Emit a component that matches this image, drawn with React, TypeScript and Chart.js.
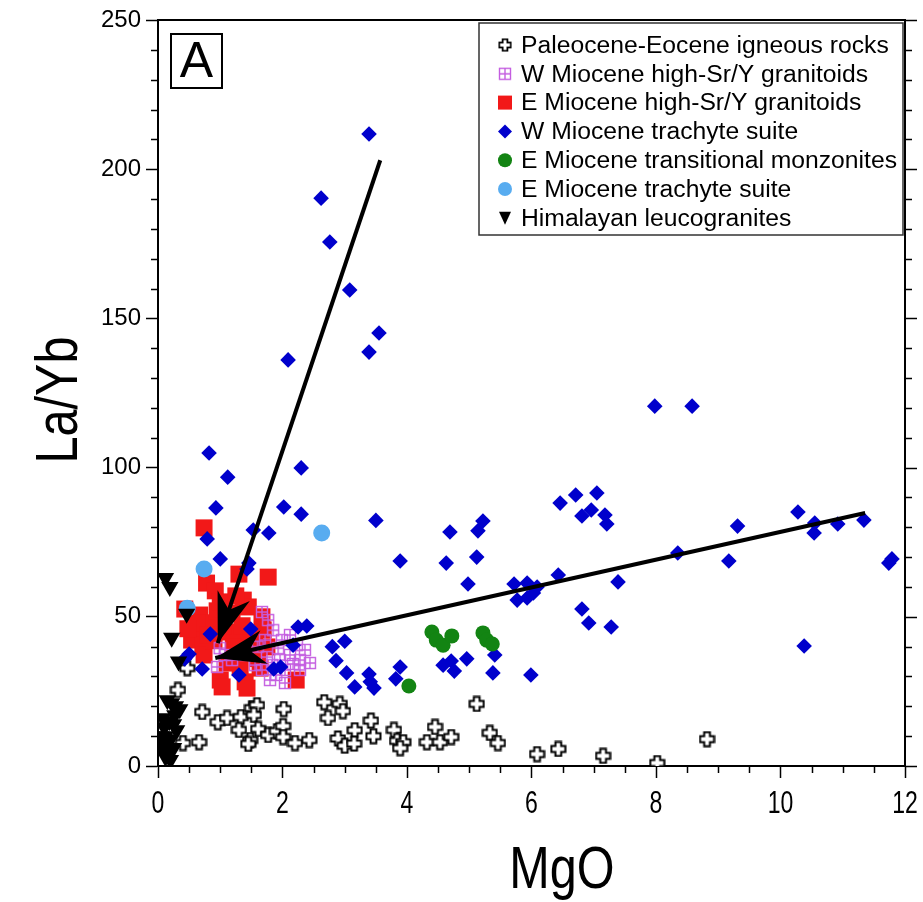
import React, { useEffect, useRef } from 'react';
import { Chart, registerables } from 'chart.js';
Chart.register(...registerables);

// ---------- data ----------
const paleoMgO = [0.32, 0.40, 0.66, 0.71, 0.96, 1.11, 1.33, 1.51, 1.59, 1.54, 1.30, 1.48, 1.45, 1.61, 1.77, 1.91, 2.01, 2.01, 2.02, 2.20, 2.43, 2.67, 2.92, 2.97, 2.73, 2.89, 3.00, 3.16, 3.15, 3.42, 3.46, 3.79, 3.84, 3.94, 3.89, 4.45, 4.32, 4.53, 4.71, 5.12, 5.33, 5.46, 6.09, 6.43, 7.15, 8.02, 8.82, 0.47];
const paleoLaYb = [25.5, 7.7, 8.0, 18.1, 14.7, 16.1, 16.4, 19.4, 20.4, 17.1, 12.1, 8.7, 7.4, 12.4, 10.4, 11.7, 13.4, 9.7, 19.1, 7.7, 8.7, 21.4, 20.8, 18.4, 16.1, 9.2, 6.8, 12.0, 7.5, 15.2, 10.0, 12.1, 8.4, 8.0, 6.0, 13.1, 8.0, 8.0, 9.7, 20.8, 11.1, 7.7, 4.0, 5.7, 3.4, 1.0, 9.0, 32.8];

const wGranMgO = [1.67, 1.77, 1.99, 2.12, 2.23, 2.36, 2.44, 2.28, 2.12, 1.96, 1.83, 1.67, 1.80, 2.04, 1.56, 1.40, 1.19, 1.08, 0.99, 2.04, 2.28, 1.72, 1.93, 2.17, 1.85, 1.60, 1.90, 1.75, 0.95];
const wGranLaYb = [51.6, 48.9, 42.2, 43.9, 40.5, 38.9, 34.5, 35.5, 37.2, 35.5, 33.8, 32.2, 28.8, 27.8, 33.8, 37.2, 35.5, 37.2, 39.5, 32.2, 32.2, 42.2, 39.5, 34.2, 45.5, 40.0, 30.5, 36.5, 33.2];

const eGranMgO = [0.74, 1.77, 1.30, 0.78, 0.92, 1.37, 1.45, 0.43, 1.19, 1.67, 0.67, 0.59, 0.54, 0.72, 1.11, 1.29, 1.21, 1.48, 1.69, 1.75, 1.11, 1.32, 1.64, 1.00, 1.03, 1.40, 1.43, 2.22, 0.74, 0.85, 0.95, 1.05, 0.62, 1.55, 1.60, 0.90, 1.35, 0.80, 1.00, 1.25, 0.48];
const eGranLaYb = [79.8, 63.3, 64.3, 61.3, 58.7, 55.6, 53.3, 52.6, 51.3, 50.0, 50.6, 45.6, 42.2, 40.5, 44.9, 43.2, 39.9, 38.2, 45.6, 39.9, 34.5, 33.2, 32.8, 28.8, 26.5, 28.2, 26.1, 28.8, 37.2, 48.0, 52.0, 47.0, 48.0, 42.0, 36.0, 42.0, 47.0, 44.0, 55.0, 57.0, 46.0];

const wTrachMgO = [3.39, 2.62, 2.76, 3.08, 3.55, 3.39, 2.09, 0.82, 1.12, 2.30, 0.93, 2.02, 2.30, 0.79, 1.53, 1.78, 1.00, 1.46, 1.43, 3.50, 3.89, 7.98, 8.58, 6.46, 6.71, 7.05, 6.81, 6.96, 7.18, 7.21, 4.69, 5.14, 5.22, 4.63, 5.12, 4.98, 5.72, 5.93, 6.09, 5.77, 5.93, 6.03, 6.43, 7.39, 6.81, 6.92, 7.28, 8.35, 9.17, 9.31, 10.28, 10.55, 10.54, 10.92, 11.34, 11.74, 11.79, 10.38, 2.80, 3.00, 2.86, 3.03, 3.39, 3.41, 3.16, 3.47, 3.89, 3.82, 4.58, 4.71, 4.76, 4.96, 5.41, 5.38, 5.99, 0.84, 1.49, 2.25, 2.39, 2.17, 0.50, 0.43, 0.71, 1.30, 1.86, 1.97];
const wTrachLaYb = [211.8, 190.3, 175.6, 159.5, 145.1, 138.7, 136.1, 104.9, 96.8, 99.9, 86.5, 86.8, 84.4, 76.1, 79.1, 78.1, 69.4, 68.0, 66.0, 82.3, 68.7, 120.6, 120.6, 88.1, 90.8, 91.5, 83.8, 85.8, 84.1, 81.1, 78.4, 78.8, 82.1, 68.0, 70.0, 61.0, 61.0, 61.3, 60.0, 55.6, 56.3, 58.0, 64.0, 61.7, 52.6, 47.9, 46.6, 71.4, 68.7, 80.4, 85.1, 81.4, 78.1, 81.1, 82.4, 68.0, 69.4, 40.2, 40.0, 41.8, 35.3, 31.2, 30.8, 28.2, 26.5, 26.1, 33.2, 29.2, 33.8, 35.2, 31.8, 35.9, 37.2, 31.2, 30.5, 44.2, 45.9, 46.6, 46.9, 40.5, 37.5, 35.9, 32.5, 30.5, 32.5, 33.2];

const monzMgO = [4.40, 4.47, 4.58, 4.72, 5.22, 5.28, 5.37, 4.03];
const monzLaYb = [44.9, 42.2, 40.5, 43.6, 44.6, 42.2, 40.9, 26.8];

const eTrachMgO = [2.63, 0.74, 0.47];
const eTrachLaYb = [78.1, 66.0, 52.9];

const leucoMgO = [0.12, 0.19, 0.46, 0.22, 0.33, 0.15, 0.22, 0.28, 0.35, 0.27, 0.18, 0.08, 0.10, 0.05, 0.12, 0.20, 0.08, 0.15, 0.25, 0.10, 0.18, 0.12, 0.20, 0.30, 0.25];
const leucoLaYb = [63, 60, 51, 43, 35, 22, 21, 20, 19, 17, 15, 16, 13, 10, 10, 9, 7, 6, 6, 5, 4, 3, 2, 12, 14];

const arrowAMgO = [3.57, 0.96];
const arrowALaYb = [203, 41.2];
const arrowBMgO = [11.36, 0.92];
const arrowBLaYb = [84.8, 36.2];

const xMajorTicks = [0, 2, 4, 6, 8, 10, 12];
const yMajorTicks = [0, 50, 100, 150, 200, 250];
const xMinorStep = 0.5;
const yMinorStep = 10;

const seriesNames = [
  'Paleocene-Eocene igneous rocks',
  'W Miocene high-Sr/Y granitoids',
  'E Miocene high-Sr/Y granitoids',
  'W Miocene trachyte suite',
  'E Miocene transitional monzonites',
  'E Miocene trachyte suite',
  'Himalayan leucogranites',
];
const panelLabel = 'A';
const xTitle = 'MgO';
const yTitle = 'La/Yb';

const BLUE = '#0000cc';
const RED = '#f21818';
const GREEN = '#138413';
const LIGHTBLUE = '#58acf0';
const PURPLE = '#c45ee0';

const SANS = '"Liberation Sans", Arial, sans-serif';

const pts = (xs: number[], ys: number[]) => xs.map((x, i) => ({ x, y: ys[i] }));

function makeCross(size: number) {
  const c = document.createElement('canvas');
  c.width = size; c.height = size;
  const g = c.getContext('2d')!;
  const m = size / 2, h = size / 2 - 1.5, a = size * 0.17;
  g.beginPath();
  g.moveTo(m - a, m - h); g.lineTo(m + a, m - h); g.lineTo(m + a, m - a); g.lineTo(m + h, m - a);
  g.lineTo(m + h, m + a); g.lineTo(m + a, m + a); g.lineTo(m + a, m + h); g.lineTo(m - a, m + h);
  g.lineTo(m - a, m + a); g.lineTo(m - h, m + a); g.lineTo(m - h, m - a); g.lineTo(m - a, m - a);
  g.closePath();
  g.fillStyle = '#fff'; g.fill();
  g.lineWidth = 2; g.strokeStyle = '#000'; g.lineJoin = 'miter'; g.stroke();
  return c;
}

function makeGridSquare(size: number) {
  const c = document.createElement('canvas');
  c.width = size; c.height = size;
  const g = c.getContext('2d')!;
  g.strokeStyle = PURPLE; g.lineWidth = 1.4;
  const p = 1.5, s = size - 3;
  g.strokeRect(p, p, s, s);
  g.beginPath();
  g.moveTo(size / 2, p); g.lineTo(size / 2, p + s);
  g.moveTo(p, size / 2); g.lineTo(p + s, size / 2);
  g.stroke();
  return c;
}

function drawMarker(ctx: CanvasRenderingContext2D, kind: string, x: number, y: number, imgs: any) {
  ctx.save();
  if (kind === 'cross') ctx.drawImage(imgs.cross, x - 7, y - 7, 14, 14);
  else if (kind === 'grid') ctx.drawImage(imgs.grid, x - 7, y - 7, 14, 14);
  else if (kind === 'square') { ctx.fillStyle = RED; ctx.fillRect(x - 7, y - 7, 14, 14); }
  else if (kind === 'diamond') {
    ctx.fillStyle = BLUE; ctx.beginPath();
    ctx.moveTo(x, y - 7); ctx.lineTo(x + 7, y); ctx.lineTo(x, y + 7); ctx.lineTo(x - 7, y); ctx.closePath(); ctx.fill();
  } else if (kind === 'green' || kind === 'lblue') {
    ctx.fillStyle = kind === 'green' ? GREEN : LIGHTBLUE;
    ctx.beginPath(); ctx.arc(x, y, 7, 0, Math.PI * 2); ctx.fill();
  } else if (kind === 'tri') {
    ctx.fillStyle = '#000'; ctx.beginPath();
    ctx.moveTo(x - 6, y - 6); ctx.lineTo(x + 6, y - 6); ctx.lineTo(x, y + 7); ctx.closePath(); ctx.fill();
  }
  ctx.restore();
}

export default function App() {
  const ref = useRef<HTMLCanvasElement | null>(null);
  useEffect(() => {
    document.body.style.margin = '0';
    const cross = makeCross(17);
    const grid = makeGridSquare(14);
    const imgs = { cross, grid };

    const decor = {
      id: 'decor',
      afterDatasetsDraw(chart: any) {
        const ctx = chart.ctx as CanvasRenderingContext2D;
        ctx.save();
        [0, 1].forEach((ds) => {
          const meta = chart.getDatasetMeta(ds);
          const p0 = meta.data[0], p1 = meta.data[1];
          const dx = p1.x - p0.x, dy = p1.y - p0.y;
          const len = Math.hypot(dx, dy);
          const ux = dx / len, uy = dy / len;
          const nx = -uy, ny = ux;
          const L = 50, W = 17, N = 35;
          const tx = p1.x, ty = p1.y;
          ctx.fillStyle = '#000';
          ctx.beginPath();
          ctx.moveTo(tx, ty);
          ctx.lineTo(tx - ux * L + nx * W, ty - uy * L + ny * W);
          ctx.lineTo(tx - ux * N, ty - uy * N);
          ctx.lineTo(tx - ux * L - nx * W, ty - uy * L - ny * W);
          ctx.closePath();
          ctx.fill();
        });
        ctx.restore();
      },
      afterDraw(chart: any) {
        const ctx = chart.ctx as CanvasRenderingContext2D;
        const a = chart.chartArea;
        const xs = chart.scales.x, ys = chart.scales.y;
        ctx.save();
        ctx.strokeStyle = '#000';
        ctx.lineWidth = 2;
        ctx.beginPath();
        ctx.moveTo(a.left - 1, a.top); ctx.lineTo(a.right, a.top); ctx.lineTo(a.right, a.bottom + 1);
        ctx.stroke();
        // minor + right ticks
        ctx.lineWidth = 1.5;
        for (let v = 0; v <= 250 + 1e-9; v += yMinorStep) {
          const py = Math.round(ys.getPixelForValue(v)) + 0.5;
          const major = yMajorTicks.includes(v);
          ctx.beginPath();
          if (!major) { ctx.moveTo(a.left - 7, py); ctx.lineTo(a.left, py); }
          ctx.moveTo(a.right, py); ctx.lineTo(a.right + (major ? 12 : 7), py);
          ctx.stroke();
        }
        for (let v = 0; v <= 12 + 1e-9; v += xMinorStep) {
          if (xMajorTicks.includes(v)) continue;
          const px = Math.round(xs.getPixelForValue(v)) + 0.5;
          ctx.beginPath(); ctx.moveTo(px, a.bottom); ctx.lineTo(px, a.bottom + 7); ctx.stroke();
        }
        ctx.fillStyle = '#000';
        // x tick labels (condensed)
        ctx.font = `32px ${SANS}`;
        ctx.textAlign = 'center';
        ctx.textBaseline = 'alphabetic';
        xMajorTicks.forEach((v) => {
          const px = xs.getPixelForValue(v);
          ctx.save();
          ctx.translate(px, 813);
          ctx.scale(0.72, 1);
          ctx.fillText(String(v), 0, 0);
          ctx.restore();
        });
        // axis titles
        ctx.font = `60px ${SANS}`;
        ctx.save();
        ctx.translate(562, 888);
        ctx.scale(0.81, 1);
        ctx.fillText(xTitle, 0, 0);
        ctx.restore();
        ctx.save();
        ctx.translate(77, 400);
        ctx.rotate(-Math.PI / 2);
        ctx.scale(0.81, 1);
        ctx.fillText(yTitle, 0, 0);
        ctx.restore();
        // panel label
        ctx.lineWidth = 2;
        ctx.strokeRect(171, 34, 51, 54);
        ctx.font = `50px ${SANS}`;
        ctx.textBaseline = 'middle';
        ctx.fillText(panelLabel, 196.5, 63);
        // legend
        ctx.fillStyle = '#fff';
        ctx.fillRect(479, 23, 424, 212);
        ctx.strokeStyle = '#333';
        ctx.lineWidth = 1.5;
        ctx.strokeRect(479, 23, 424, 212);
        const kinds = ['cross', 'grid', 'square', 'diamond', 'green', 'lblue', 'tri'];
        ctx.font = `24.7px ${SANS}`;
        ctx.textAlign = 'left';
        ctx.textBaseline = 'middle';
        seriesNames.forEach((n, i) => {
          const yy = 45 + i * 28.8;
          drawMarker(ctx, kinds[i], 505, yy, imgs);
          ctx.fillStyle = '#000';
          ctx.fillText(n, 521, yy + 1);
        });
        ctx.restore();
      },
    };

    const chart = new Chart(ref.current!, {
      type: 'scatter',
      data: {
        datasets: [
          { label: 'arrowA', type: 'line', data: pts(arrowAMgO, arrowALaYb), showLine: true, borderColor: '#000', borderWidth: 4, pointRadius: 0, fill: false } as any,
          { label: 'arrowB', type: 'line', data: pts(arrowBMgO, arrowBLaYb), showLine: true, borderColor: '#000', borderWidth: 4, pointRadius: 0, fill: false } as any,
          { label: seriesNames[6], data: pts(leucoMgO, leucoLaYb), pointStyle: 'triangle', rotation: 180, pointRadius: 10, backgroundColor: '#000', borderWidth: 0 },
          { label: seriesNames[5], data: pts(eTrachMgO, eTrachLaYb), pointStyle: 'circle', pointRadius: 8.5, backgroundColor: LIGHTBLUE, borderWidth: 0 },
          { label: seriesNames[4], data: pts(monzMgO, monzLaYb), pointStyle: 'circle', pointRadius: 7.5, backgroundColor: GREEN, borderWidth: 0 },
          { label: seriesNames[3], data: pts(wTrachMgO, wTrachLaYb), pointStyle: 'rectRot', pointRadius: 7.8, backgroundColor: BLUE, borderWidth: 0 },
          { label: seriesNames[1], data: pts(wGranMgO, wGranLaYb), pointStyle: grid, pointRadius: 7 },
          { label: seriesNames[2], data: pts(eGranMgO, eGranLaYb), pointStyle: 'rect', pointRadius: 12, backgroundColor: RED, borderWidth: 0 },
          { label: seriesNames[0], data: pts(paleoMgO, paleoLaYb), pointStyle: cross, pointRadius: 8 },
        ],
      },
      options: {
        responsive: false,
        animation: false,
        layout: { padding: { left: 0, top: 20, right: 18, bottom: 0 } },
        plugins: { legend: { display: false }, tooltip: { enabled: false } },
        scales: {
          x: {
            type: 'linear', min: 0, max: 12,
            afterBuildTicks: (s: any) => { s.ticks = xMajorTicks.map((v) => ({ value: v })); },
            afterFit: (s: any) => { s.height = 136; },
            ticks: { display: false },
            grid: { drawOnChartArea: false, drawTicks: true, tickLength: 12, tickWidth: 1.5, tickColor: '#000', color: '#000' },
            border: { display: true, color: '#000', width: 2 },
          },
          y: {
            type: 'linear', min: 0, max: 250,
            afterBuildTicks: (s: any) => { s.ticks = yMajorTicks.map((v) => ({ value: v })); },
            afterFit: (s: any) => { s.width = 158; },
            ticks: { color: '#000', font: { family: SANS, size: 24 }, padding: 5, autoSkip: false },
            grid: { drawOnChartArea: false, drawTicks: true, tickLength: 12, tickWidth: 1.5, tickColor: '#000', color: '#000' },
            border: { display: true, color: '#000', width: 2 },
          },
        },
      },
      plugins: [decor],
    } as any);
    return () => chart.destroy();
  }, []);
  return (
    <div style={{ position: 'absolute', left: 0, top: 0, width: 923, height: 902, background: '#fff' }}>
      <canvas ref={ref} width={923} height={902} style={{ width: 923, height: 902 }} />
    </div>
  );
}
